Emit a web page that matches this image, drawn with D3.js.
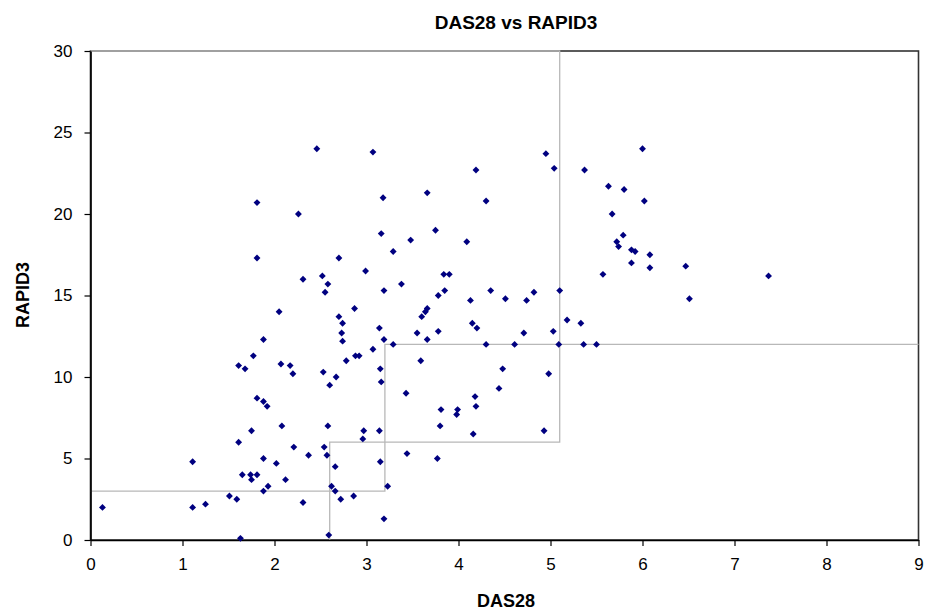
<!DOCTYPE html>
<html>
<head>
<meta charset="utf-8">
<script src="https://cdn.jsdelivr.net/npm/d3@7"></script>
<style>
  body { margin: 0; background: #fff; }
  text { font-family: Arial, "Liberation Sans", sans-serif; }
</style>
</head>
<body>
<script>
// DAS28 / RAPID3 pairs
const das28 = [
  2.46, 1.81, 2.26, 1.81, 2.70, 2.31, 2.52, 2.58,
  3.07, 4.95, 5.04, 5.37, 4.19, 3.18, 3.66, 4.30, 5.63, 5.67, 3.16, 3.75,
  3.48, 3.29, 4.09, 5.72, 5.74, 2.99, 3.84, 3.90, 3.38, 5.57,
  6.00, 5.80, 6.02, 5.79, 5.88, 5.92, 6.08, 5.88, 6.08, 6.47, 7.37, 6.51,
  2.55, 2.87, 2.05, 2.70, 2.74, 2.73, 2.74, 1.88, 1.77, 1.61, 1.68, 2.07,
  2.17, 2.20, 2.53, 2.67, 2.60, 2.78, 2.88, 2.92, 1.81, 1.88, 1.92, 2.08,
  2.58, 1.75, 1.61, 2.21, 2.54, 2.37, 2.57, 1.88, 1.11, 2.02, 2.66, 1.65,
  1.74, 1.81, 1.75, 2.12, 2.62, 1.88, 1.93, 2.66, 1.51, 1.59, 2.31, 2.72,
  2.86, 1.25, 1.11, 0.13, 1.63, 2.59,
  3.19, 3.78, 3.85, 4.35, 5.10, 4.51, 4.74, 4.82, 4.13, 3.66, 3.64, 3.60,
  3.14, 3.19, 3.29, 3.55, 3.66, 3.78, 4.15, 4.20, 4.30, 4.61, 4.71, 5.03,
  5.09, 5.18, 5.33, 5.36, 5.50, 3.07, 3.15, 3.59, 3.16, 4.48, 4.98, 3.43,
  4.44, 4.18, 4.19, 3.81, 3.99, 3.98, 3.80, 4.16, 4.93, 2.97, 3.14, 2.96,
  3.44, 3.77, 3.15, 3.23, 3.19
]
const rapid3 = [
  24.0, 20.7, 20.0, 17.3, 17.3, 16.0, 16.2, 15.7,
  23.8, 23.7, 22.8, 22.7, 22.7, 21.0, 21.3, 20.8, 21.7, 20.0, 18.8, 19.0,
  18.4, 17.7, 18.3, 18.3, 18.0, 16.5, 16.3, 16.3, 15.7, 16.3,
  24.0, 21.5, 20.8, 18.7, 17.8, 17.7, 17.5, 17.0, 16.7, 16.8, 16.2, 14.8,
  15.2, 14.2, 14.0, 13.7, 13.3, 12.7, 12.2, 12.3, 11.3, 10.7, 10.5, 10.8,
  10.7, 10.2, 10.3, 10.0, 9.5, 11.0, 11.3, 11.3, 8.7, 8.5, 8.2, 7.0,
  7.0, 6.7, 6.0, 5.7, 5.7, 5.2, 5.2, 5.0, 4.8, 4.7, 4.5, 4.0,
  4.0, 4.0, 3.7, 3.7, 3.3, 3.0, 3.3, 3.0, 2.7, 2.5, 2.3, 2.5,
  2.7, 2.2, 2.0, 2.0, 0.1, 0.3,
  15.3, 15.0, 15.3, 15.3, 15.3, 14.8, 14.7, 15.2, 14.7, 14.2, 14.0, 13.7,
  13.0, 12.3, 12.0, 12.7, 12.3, 12.8, 13.3, 13.0, 12.0, 12.0, 12.7, 12.8,
  12.0, 13.5, 13.3, 12.0, 12.0, 11.7, 10.5, 11.0, 9.7, 10.5, 10.2, 9.0,
  9.3, 8.8, 8.2, 8.0, 8.0, 7.7, 7.0, 6.5, 6.7, 6.7, 6.7, 6.2,
  5.3, 5.0, 4.8, 3.3, 1.3
]

// category cut-off step lines (DAS28, RAPID3)
const cutLow  = [[0, 3], [3.2, 3], [3.2, 12], [9, 12]]
const cutHigh = [[2.6, 0], [2.6, 6], [5.1, 6], [5.1, 30], [0, 30]]

const xTicks = [0, 1, 2, 3, 4, 5, 6, 7, 8, 9]
const yTicks = [0, 5, 10, 15, 20, 25, 30]

const width = 925, height = 616
const margin = {top: 51, right: 6.5, bottom: 76, left: 90.5}

const svg = d3.select("body").append("svg")
    .attr("width", width)
    .attr("height", height)

const x = d3.scaleLinear().domain([0, 9]).range([margin.left, width - margin.right])
const y = d3.scaleLinear().domain([0, 30]).range([height - margin.bottom, margin.top])

// plot frame
svg.append("rect")
    .attr("x", x(0)).attr("y", y(30))
    .attr("width", x(9) - x(0)).attr("height", y(0) - y(30))
    .attr("fill", "#fff")
    .attr("stroke", "#333")
    .attr("stroke-width", 1.6)

// cut-off lines
let line = d3.line().x(d => x(d[0])).y(d => y(d[1]))
svg.selectAll(".cut").data([cutLow, cutHigh]).enter()
    .append("path")
    .attr("class", "cut")
    .attr("d", line)
    .attr("fill", "none")
    .attr("stroke", "#b8b8b8")
    .attr("stroke-width", 1.3)

// axes
let xAxis = svg.append("g")
    .attr("transform", `translate(0,${y(0)})`)
    .call(d3.axisBottom(x).tickValues(xTicks).tickSize(6).tickPadding(12).tickSizeOuter(0))
let yAxis = svg.append("g")
    .attr("transform", `translate(${x(0)},0)`)
    .call(d3.axisLeft(y).tickValues(yTicks).tickSize(6).tickPadding(12).tickSizeOuter(0))

for (let ax of [xAxis, yAxis]) {
    ax.select(".domain").attr("stroke", "#000").attr("stroke-width", 1.6)
    ax.selectAll(".tick line").attr("stroke", "#000").attr("stroke-width", 1.2)
    ax.selectAll(".tick text")
        .attr("fill", "#000")
        .style("font-size", "17px")
        .style("font-family", "Arial, 'Liberation Sans', sans-serif")
}

// points
let points = das28.map((d, i) => [d, rapid3[i]])
svg.append("g").selectAll("path").data(points).enter()
    .append("path")
    .attr("transform", d => `translate(${x(d[0])},${y(d[1])})`)
    .attr("d", d3.symbol().type(d3.symbolDiamond2).size(30))
    .attr("fill", "#000080")

// titles
svg.append("text")
    .attr("x", 516).attr("y", 29)
    .attr("text-anchor", "middle")
    .style("font-size", "19px").style("font-weight", "bold")
    .text("DAS28 vs RAPID3")

svg.append("text")
    .attr("x", 506).attr("y", 607)
    .attr("text-anchor", "middle")
    .style("font-size", "18px").style("font-weight", "bold")
    .text("DAS28")

svg.append("text")
    .attr("transform", "translate(29,295) rotate(-90)")
    .attr("text-anchor", "middle")
    .style("font-size", "18px").style("font-weight", "bold")
    .text("RAPID3")
</script>
</body>
</html>
